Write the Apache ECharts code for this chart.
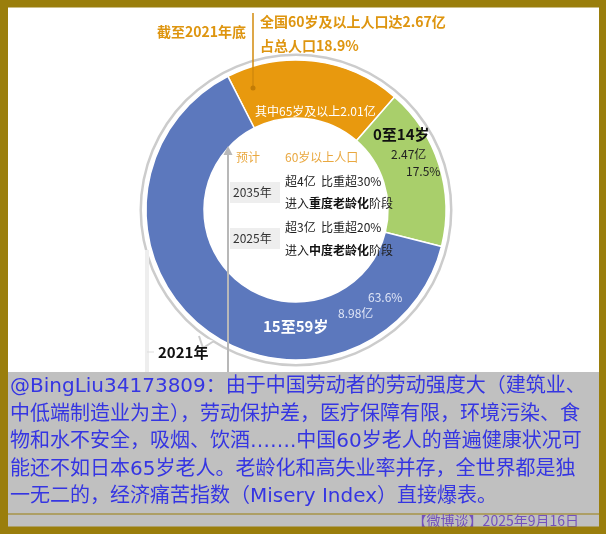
<!DOCTYPE html>
<html><head><meta charset="utf-8">
<script src="https://cdn.jsdelivr.net/npm/echarts@6/dist/echarts.min.js"></script>
<style>html,body{margin:0;padding:0;background:#fff}#c{width:606px;height:534px}</style>
</head><body><div id="c"></div>
<script>
// ---- data ----
var groups = ['60岁及以上', '0至14岁', '15至59岁'];
var popYi = [2.67, 2.47, 8.98];          // 亿
var shares = ['18.9%', '17.5%', '63.6%'];
var colors = ['#E8990E', '#A9CF6B', '#5C78BD'];
var over65 = 2.01;
var captionLines = [
  '@BingLiu34173809：由于中国劳动者的劳动强度大（建筑业、',
  '中低端制造业为主），劳动保护差，医疗保障有限，环境污染、食',
  '物和水不安全，吸烟、饮酒…….中国60岁老人的普遍健康状况可',
  '能还不如日本65岁老人。老龄化和高失业率并存，全世界都是独',
  '一无二的，经济痛苦指数（Misery Index）直接爆表。'
];
var footer = '【微博谈】2025年9月16日';

var CJK = '"Noto Sans CJK SC", sans-serif';
var chart = echarts.init(document.getElementById('c'), null, {renderer: 'canvas'});
var cx = 296, cy = 210;

function t(x, y, text, size, color, weight, extra) {
  var s = {text: text, x: x, y: y, font: (weight || 'normal') + ' ' + size + 'px ' + CJK,
           fill: color, textVerticalAlign: 'middle'};
  if (extra) for (var k in extra) s[k] = extra[k];
  return {type: 'text', silent: true, z: 10, style: s};
}

var richStage = {
  b: {font: 'bold 12px ' + CJK, fill: '#111'},
  n: {font: 'normal 12px ' + CJK, fill: '#222'}
};

var graphics = [
  // caption background
  {type: 'rect', z: 1, shape: {x: 8, y: 372, width: 592, height: 155}, style: {fill: '#c0c0c0'}},
  {type: 'line', z: 2, shape: {x1: 8, y1: 514, x2: 600, y2: 514}, style: {stroke: '#9a7f0d', lineWidth: 1}},
  // frame
  {type: 'rect', z: 20, shape: {x: 4, y: 3.5, width: 599, height: 527}, style: {fill: null, stroke: '#9A7E0C', lineWidth: 8}},
  // faint timeline at left
  {type: 'line', z: 3, shape: {x1: 147, y1: 250, x2: 147, y2: 372}, style: {stroke: '#eeeeee', lineWidth: 4}},
  {type: 'line', z: 3, shape: {x1: 147, y1: 352, x2: 154, y2: 352}, style: {stroke: '#dddddd', lineWidth: 1}},
  // callout notch on outline
  {type: 'polyline', z: 3, shape: {points: [[199, 336], [203, 348], [214, 341]]}, style: {stroke: '#cccccc', lineWidth: 2, fill: '#ffffff'}},
  // forecast arrow
  {type: 'line', z: 5, shape: {x1: 228, y1: 153, x2: 228, y2: 372}, style: {stroke: '#b8b8b8', lineWidth: 2}},
  {type: 'polygon', z: 5, shape: {points: [[228, 146], [223.5, 155], [232.5, 155]]}, style: {fill: '#b8b8b8'}},
  // callout line
  {type: 'line', z: 5, shape: {x1: 253, y1: 13, x2: 253, y2: 88}, style: {stroke: '#D28A0C', lineWidth: 1.5}},
  {type: 'circle', z: 6, shape: {cx: 253, cy: 88, r: 2.5}, style: {fill: '#C27C06'}},
  // year boxes
  {type: 'rect', z: 4, shape: {x: 230, y: 182, width: 50, height: 21}, style: {fill: '#eeeeee'}},
  {type: 'rect', z: 4, shape: {x: 230, y: 228, width: 50, height: 21}, style: {fill: '#eeeeee'}},

  t(157, 32, '截至2021年底', 14, '#DE950F', 'bold'),
  t(260, 22, '全国60岁及以上人口达' + popYi[0] + '亿', 14, '#DE950F', 'bold'),
  t(260, 46, '占总人口' + shares[0], 14, '#DE950F', 'bold'),
  t(255, 111, '其中65岁及以上' + over65.toFixed(2) + '亿', 12, '#ffffff'),
  t(373, 134, groups[1], 15, '#111111', 'bold'),
  t(391, 154, popYi[1] + '亿', 12, '#222222'),
  t(406, 171, shares[1], 12, '#222222'),
  t(236, 157, '预计', 12, '#E9A840'),
  t(285, 157, '60岁以上人口', 12, '#E9A840'),
  t(233, 192.5, '2035年', 12, '#333333'),
  t(285, 181, '超4亿  比重超30%', 12, '#222222'),
  {type: 'text', silent: true, z: 10, style: {x: 285, y: 203, textVerticalAlign: 'middle',
    rich: richStage, text: '{n|进入}{b|重度老龄化}{n|阶段}'}},
  t(233, 238.5, '2025年', 12, '#333333'),
  t(285, 227, '超3亿  比重超20%', 12, '#222222'),
  {type: 'text', silent: true, z: 10, style: {x: 285, y: 250, textVerticalAlign: 'middle',
    rich: richStage, text: '{n|进入}{b|中度老龄化}{n|阶段}'}},
  t(368, 297, shares[2], 12, '#dfe5f6'),
  t(338, 313, popYi[2] + '亿', 12, '#dfe5f6'),
  t(263, 326, groups[2], 15, '#ffffff', 'bold'),
  t(158, 352, '2021年', 15, '#111111', 'bold'),

  {type: 'text', silent: true, z: 10, style: {x: 10, y: 373.5, text: captionLines.join('\n'),
    font: 'normal 20px "DejaVu Sans", "Noto Sans CJK SC", sans-serif', fill: '#3535E2',
    lineHeight: 27.5, textVerticalAlign: 'top'}},
  {type: 'text', silent: true, z: 10, style: {x: 579, y: 521, text: footer, textAlign: 'right',
    font: 'normal 14px ' + CJK, fill: '#7452BE', textVerticalAlign: 'middle'}}
];

var option = {
  animation: false,
  backgroundColor: '#ffffff',
  series: [
    {
      type: 'pie', silent: true, z: 1,
      center: [cx, cy], radius: [154, 156.5],
      label: {show: false}, labelLine: {show: false},
      itemStyle: {color: '#cccccc'},
      data: [{value: 1, name: 'outline'}]
    },
    {
      type: 'pie', silent: true, z: 2,
      center: [cx, cy], radius: [92, 150],
      startAngle: 117, clockwise: true,
      label: {show: false}, labelLine: {show: false},
      itemStyle: {borderColor: '#ffffff', borderWidth: 1.5},
      data: groups.map(function (g, i) {
        return {name: g, value: popYi[i], itemStyle: {color: colors[i]}};
      })
    }
  ],
  graphic: graphics
};
chart.setOption(option);
</script>
</body></html>
